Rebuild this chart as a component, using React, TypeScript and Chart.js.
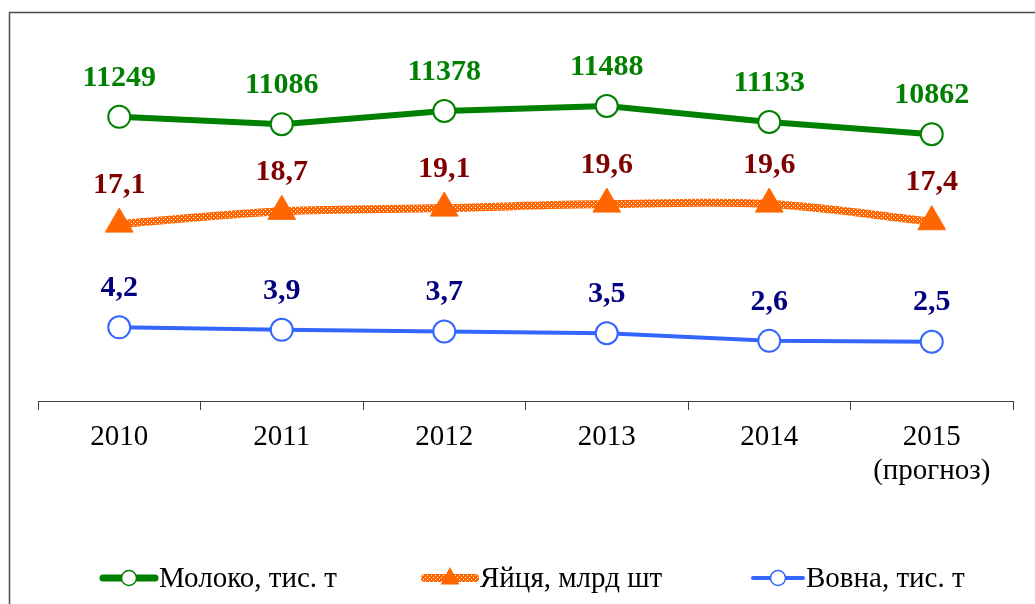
import React, { useEffect, useRef } from 'react';
import { Chart, registerables } from 'chart.js';

Chart.register(...registerables);

const years: (string | string[])[] = ['2010', '2011', '2012', '2013', '2014', ['2015', '(прогноз)']];
const milk = [11249, 11086, 11378, 11488, 11133, 10862];
const eggs = [17.1, 18.7, 19.1, 19.6, 19.6, 17.4];
const wool = [4.2, 3.9, 3.7, 3.5, 2.6, 2.5];
const seriesNames = ['Молоко, тис. т', 'Яйця, млрд шт', 'Вовна, тис. т'];

const FONT = "'Liberation Serif', 'Times New Roman', serif";
const GREEN = '#008000';
const ORANGE = '#FF6600';
const BLUE = '#3366FF';
const labelColors = ['#008000', '#800000', '#000080'];

const fmtInt = (v: number) => String(v);
const fmtDec = (v: number) => v.toFixed(1).replace('.', ',');
const formatters = [fmtInt, fmtDec, fmtDec];

function makePattern(): CanvasPattern | string {
  const c = document.createElement('canvas');
  c.width = 4;
  c.height = 4;
  const g = c.getContext('2d');
  if (!g) return ORANGE;
  g.fillStyle = ORANGE;
  g.fillRect(0, 0, 4, 4);
  g.fillStyle = '#FFFFFF';
  g.fillRect(1, 1, 1, 1);
  g.fillRect(3, 3, 1, 1);
  return g.createPattern(c, 'repeat') || ORANGE;
}

const framePlugin = {
  id: 'frame',
  beforeDraw(chart: any) {
    const ctx = chart.ctx;
    ctx.save();
    ctx.fillStyle = '#FFFFFF';
    ctx.fillRect(0, 0, chart.width, chart.height);
    ctx.strokeStyle = '#4D4D4D';
    ctx.lineWidth = 1.5;
    ctx.strokeRect(9.5, 12.5, chart.width + 40, chart.height + 40);
    ctx.restore();
  },
};

const labelPlugin = {
  id: 'valueLabels',
  afterDatasetsDraw(chart: any) {
    const ctx = chart.ctx;
    ctx.save();
    ctx.font = `bold 30px ${FONT}`;
    ctx.textAlign = 'center';
    ctx.textBaseline = 'middle';
    chart.data.datasets.forEach((ds: any, i: number) => {
      const meta = chart.getDatasetMeta(i);
      ctx.fillStyle = labelColors[i];
      meta.data.forEach((pt: any, j: number) => {
        ctx.fillText(formatters[i](ds.data[j]), pt.x, pt.y - 39);
      });
    });
    ctx.restore();
  },
};

function drawCircle(ctx: CanvasRenderingContext2D, x: number, y: number, r: number, color: string) {
  ctx.beginPath();
  ctx.arc(x, y, r, 0, Math.PI * 2);
  ctx.fillStyle = '#FFFFFF';
  ctx.fill();
  ctx.lineWidth = 1.5;
  ctx.strokeStyle = color;
  ctx.stroke();
}

const legendPlugin = {
  id: 'customLegend',
  afterDraw(chart: any) {
    const ctx: CanvasRenderingContext2D = chart.ctx;
    const y = 578;
    const datasets = chart.data.datasets;
    const items = [
      { x0: 100, x1: 158, tx: 159 },
      { x0: 422, x1: 478, tx: 480 },
      { x0: 750, x1: 806, tx: 806 },
    ];
    ctx.save();
    items.forEach((it, i) => {
      const ds = datasets[i];
      ctx.lineCap = 'round';
      ctx.beginPath();
      ctx.moveTo(it.x0 + 3, y);
      ctx.lineTo(it.x1 - 3, y);
      ctx.strokeStyle = ds.borderColor;
      ctx.lineWidth = i === 0 ? 7 : i === 1 ? 8 : 4;
      ctx.stroke();
      const cx = (it.x0 + it.x1) / 2;
      if (i === 1) {
        const r = 11;
        ctx.beginPath();
        ctx.moveTo(cx, y - r);
        ctx.lineTo(cx + r * 0.866, y + r / 2 + 1);
        ctx.lineTo(cx - r * 0.866, y + r / 2 + 1);
        ctx.closePath();
        ctx.fillStyle = ORANGE;
        ctx.fill();
      } else {
        drawCircle(ctx, cx, y, 7.5, i === 0 ? GREEN : BLUE);
      }
      ctx.fillStyle = '#000000';
      ctx.font = `29px ${FONT}`;
      ctx.textAlign = 'left';
      ctx.textBaseline = 'middle';
      ctx.fillText(seriesNames[i], it.tx, y + 1);
    });
    ctx.restore();
  },
};

export default function App() {
  const ref = useRef<HTMLCanvasElement | null>(null);

  useEffect(() => {
    if (!ref.current) return;
    const pattern = makePattern();
    const chart = new Chart(ref.current, {
      type: 'line',
      data: {
        labels: years as any,
        datasets: [
          {
            label: seriesNames[0],
            data: milk,
            yAxisID: 'yMilk',
            borderColor: GREEN,
            borderWidth: 6,
            tension: 0,
            pointStyle: 'circle',
            pointRadius: 11,
            pointBorderWidth: 2,
            pointBackgroundColor: '#FFFFFF',
            pointBorderColor: GREEN,
            fill: false,
          },
          {
            label: seriesNames[1],
            data: eggs,
            yAxisID: 'yEggs',
            borderColor: pattern as any,
            borderWidth: 8,
            tension: 0.35,
            pointStyle: 'triangle',
            pointRadius: 16,
            pointBorderWidth: 1,
            pointBackgroundColor: ORANGE,
            pointBorderColor: ORANGE,
            fill: false,
          },
          {
            label: seriesNames[2],
            data: wool,
            yAxisID: 'yWool',
            borderColor: BLUE,
            borderWidth: 4,
            tension: 0,
            pointStyle: 'circle',
            pointRadius: 11,
            pointBorderWidth: 2,
            pointBackgroundColor: '#FFFFFF',
            pointBorderColor: BLUE,
            fill: false,
          },
        ],
      },
      options: {
        animation: false,
        responsive: false,
        maintainAspectRatio: false,
        layout: { padding: { left: 38, right: 22, top: 30, bottom: 0 } },
        plugins: {
          legend: { display: false },
          tooltip: { enabled: false },
        },
        scales: {
          x: {
            offset: true,
            grid: {
              offset: true,
              drawOnChartArea: false,
              drawTicks: true,
              tickLength: 9,
              color: '#404040',
              lineWidth: 1,
            },
            border: { display: true, color: '#404040', width: 1 },
            ticks: {
              color: '#000000',
              font: { family: FONT, size: 29, lineHeight: 1.15 },
              padding: 11,
              maxRotation: 0,
              autoSkip: false,
            },
            afterFit: (s: any) => {
              s.height = 203;
            },
          },
          yMilk: { display: false, min: 4963, max: 13169 },
          yEggs: { display: false, min: -5.0, max: 41.35 },
          yWool: { display: false, min: -4.5, max: 39.3 },
        },
      },
      plugins: [framePlugin, labelPlugin, legendPlugin],
    });
    return () => chart.destroy();
  }, []);

  return (
    <div style={{ position: 'fixed', left: 0, top: 0, width: 1035, height: 604 }}>
      <canvas ref={ref} width={1035} height={604} style={{ display: 'block' }} />
    </div>
  );
}
